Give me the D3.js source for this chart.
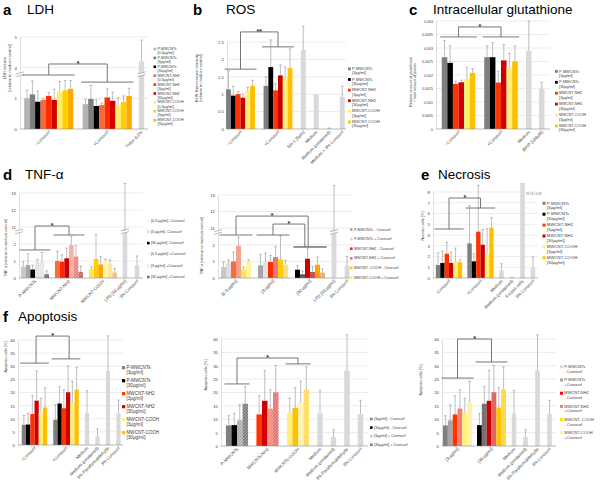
<!DOCTYPE html>
<html><head><meta charset="utf-8">
<script src="https://cdn.jsdelivr.net/npm/d3@7"></script>
<style>body{margin:0;background:#fff}svg{font-family:'Liberation Sans',Arial,sans-serif}</style>
</head><body><svg id="c" width="600" height="487"></svg>
<script>
// ================= DATA =================
const SINGLE = "#d9d9d9";
// a LDH
const ldhGroups = ["-Curosurf", "+Curosurf"];
const ldhSeries = ["P-MWCNTs [0.3µg/ml]","P-MWCNTs [3µg/ml]","P-MWCNTs [30µg/ml]","MWCNT-NH2 [0.3µg/ml]","MWCNT-NH2 [3µg/ml]","MWCNT-NH2 [30µg/ml]","MWCNT-COOH [0.3µg/ml]","MWCNT-COOH [3µg/ml]","MWCNT-COOH [30µg/ml]"];
const ldhColors = ["#b3b3b3","#7f7f7f","#000000","#f26b3a","#ff2a00","#d40000","#ffee66","#ffd000","#ffaa00"];
const ldhValues = [[1.0,1.13,0.89,0.95,1.08,0.95,1.20,1.26,1.31],[0.81,0.98,0.75,0.78,1.03,0.92,0.78,0.88,1.08]];
const ldhErrors = [[0.27,0.44,0.35,0.05,0.11,0.35,0.35,0.32,0.27],[0.16,0.44,0.2,0.06,0.28,0.28,0.24,0.2,0.25]];
const ldhSingles = ["Triton 0.2%"];
const ldhSingleValues = [4.2];
const ldhSingleErrors = [0.7];
const ldhTickLabels = [0,1,4,5];

// shared 6-series (b, c, e, f-left)
const series6 = ["P-MWCNTs [3µg/ml]","P-MWCNTs [30µg/ml]","MWCNT-NH2 [3µg/ml]","MWCNT-NH2 [30µg/ml]","MWCNT-COOH [3µg/ml]","MWCNT-COOH [30µg/ml]"];
const colors6 = ["#7f7f7f","#000000","#ff3300","#cc0000","#ffee77","#ffc000"];

// b ROS
const rosGroups = ["-Curosurf","+Curosurf"];
const rosValues = [[1.14,0.96,1.0,0.9,1.1,1.24],[1.24,1.78,1.11,1.54,1.48,1.75]];
const rosErrors = [[0.53,0.26,0.08,0.1,0.1,0.16],[0.26,0.78,0.19,0.3,0.3,0.55]];
const rosSingles = ["Sin-1 [5µm]","Medium","Medium (unstained)","Medium + 3% Curosurf"];
const rosSingleValues = [2.27,1.0,0.02,0.92];
const rosSingleErrors = [0.68,0,0.01,0.31];
const rosTicks = [0,0.5,1,1.5,2,2.5];

// c glutathione
const gshGroups = ["-Curosurf","+Curosurf"];
const gshValues = [[0.00266,0.00245,0.00167,0.00173,0.00185,0.00208],[0.00266,0.00266,0.00172,0.00254,0.00229,0.0025]];
const gshErrors = [[0.00062,0.00063,0.0001,0.00008,0.00043,0.00016],[0.00042,0.00054,0.00042,0.00058,0.00051,0.00058]];
const gshSingles = ["Medium","tBHP [100µM]"];
const gshSingleValues = [0.0029,0.00148];
const gshSingleErrors = [0.0011,0.00025];
const gshTicks = [0,0.0005,0.001,0.0015,0.002,0.0025,0.003,0.0035,0.004];

// d TNF-alpha  (rows: material; columns: 0.3-, 3-, 30-, 0.3+, 3+, 30+)
const tnfMaterials = ["P-MWCNTs","MWCNT-NH2","MWCNT-COOH"];
const tnfConcs = ["[0.3 µg/ml]","[3 µg/ml]","[30 µg/ml]"];
const tnfValues = [[0.66,0.76,0.5,0.9,0.96,0.22],[1.0,0.96,1.16,1.94,1.26,0.36],[0.52,1.12,0.8,1.02,0.8,0.32]];
const tnfErrors = [[0.3,0.66,0.26,0.2,0.54,0.2],[0.56,0.4,0.6,0.52,0.64,0.34],[0.14,1.44,0.46,0.08,0.26,0.24]];
const tnfColors = [["#c8c8c8","#a6a6a6","#000000","#dedede","#e3e3e3","#595959"],
                   ["#ff6a3d","#ff2a00","#cc0000","#f4a28c","#e87878","#c85050"],
                   ["#ffe84a","#ffcc00","#ffa500","#fff3a0","#ffe080","#f5b070"]];
const tnfSingles = ["LPS [50 µg/ml]","3% Curosurf"];
const tnfSingleValues = [10.9,0.76];
const tnfSingleErrors = [2.66,0.54];
const tnfTickLabels = [0,1,2,11,12,13];
const tnfLegendLeft = ["[0.3 µg/ml] -Curosurf","[3 µg/ml] -Curosurf","[30 µg/ml] -Curosurf","[0.3 µg/ml] +Curosurf","[3 µg/ml] +Curosurf","[30 µg/ml] +Curosurf"];
const tnfLegendMid = ["P-MWCNTs - Curosurf","P-MWCNTs + Curosurf","MWCNT-NH2 - Curosurf","MWCNT-NH2 + Curosurf","MWCNT- COOH - Curosurf","MWCNT-COOH + Curosurf"];

// e Necrosis
const necGroups = ["-Curosurf","+Curosurf"];
const necValues = [[1.21,1.4,2.26,1.4,1.58,1.47],[3.22,1.55,4.31,3.1,2.2,4.68]];
const necErrors = [[1.12,1.11,1.06,1.02,1.21,0.23],[3.51,0.71,4.31,1.4,2.39,0.92]];
const necSingles = ["Medium","Medium (unstained)","Frozen cells","3% Curosurf"];
const necSingleValues = [0.71,0.03,99.53,0.93];
const necSingleErrors = [0.62,0.02,0.38,1.02];
const necTicks = [0,1,2,3,4,5,6,7,8];

// f Apoptosis (rows: material; columns: 3-, 30-, 3+, 30+)
const apoMaterials = ["P-MWCNTs","MWCNTs-NH2","MWCNTs-COOH"];
const apoValues = [[7.7,7.8,9.6,15.8],[11.8,16.9,14.0,20.1],[12.2,14.3,16.2,21.1]];
const apoErrors = [[3.6,4.3,5.8,6.4],[7.0,11.3,7.0,10.0],[5.6,7.5,8.0,8.5]];
const apoColors = [["#7f7f7f","#000000","#a6a6a6","#737373"],["#ff3300","#cc0000","#f08070","#e06666"],["#fff07a","#ffc000","#fff2a8","#ffd84d"]];
const apoSingles = ["Medium","Medium (unstained)","3% Paraformaldehyde","3% Curosurf"];
const apoSingleValues = [12.2,3.3,28.2,11.9];
const apoSingleErrors = [8.5,2.8,13.4,5.2];
const apoTicks = [0,5,10,15,20,25,30,35,40];
const apoConcs = ["[3 µg/ml]","[30 µg/ml]"];
const apoLegendMid = ["[3µg/ml] - Curosurf","[30µg/ml] - Curosurf","[3µg/ml] + Curosurf","[30µg/ml] + Curosurf"];
const apoLegendRight = ["P-MWCNTs|- Curosurf","P-MWCNTs|+Curosurf","MWCNT-NH2|- Curosurf","MWCNT-NH2|+Curosurf","MWCNT- COOH|- Curosurf","MWCNT-COOH|+Curosurf"];

// ================= DRAWING =================
const svg = d3.select("#c");
const defs = svg.append("defs");
let hatchN = 0;
function hatch(color){
  const id = "h"+(hatchN++);
  const p = defs.append("pattern").attr("id",id).attr("patternUnits","userSpaceOnUse")
    .attr("width",2.2).attr("height",2.2).attr("patternTransform","rotate(45)");
  p.append("rect").attr("width",2.2).attr("height",2.2).attr("fill",color);
  p.append("line").attr("x1",0.5).attr("y1",0).attr("x2",0.5).attr("y2",2.2)
    .attr("stroke","#fff").attr("stroke-width",0.7).attr("stroke-opacity",0.55);
  return `url(#${id})`;
}
function buildCats(groups, values, errors, fills, singles, sv, se){
  const cats = groups.map((g,gi)=>({label:g, bars: values[gi].map((v,j)=>({v, e:errors[gi][j], fill: typeof fills==="function"? fills(gi,j) : fills[j]}))}));
  return cats.concat(singles.map((s,i)=>({label:s, single:true, bars:[{v:sv[i], e:se[i], fill:SINGLE}]})));
}
function txt(g,x,y,s,size,opt={}){
  return g.append("text").attr("x",x).attr("y",y).attr("font-size",size)
    .attr("font-weight",opt.bold?"bold":null).attr("fill",opt.fill||"#000")
    .attr("text-anchor",opt.anchor||"start").text(s);
}
function drawPanel(o){
  const g = svg.append("g");
  const ys = d3.scaleLinear().domain(o.yDomain).range(o.yRange);
  const disp = o.disp || (v=>v);
  const Y = v => ys(Math.min(disp(v), o.clip ?? 1e9));
  const tickDisp = o.tickDisp || o.ticks;
  const tickLab = o.tickLabels || o.ticks.map(o.fmt || (d=>d));
  // grid
  g.selectAll(".gr").data(tickDisp.slice(1)).join("line")
    .attr("x1",o.gx0).attr("x2",o.gx1).attr("y1",d=>ys(d)).attr("y2",d=>ys(d))
    .attr("stroke","#d9d9d9").attr("stroke-width",0.5);
  // y axis
  const ax = d3.axisLeft(ys).tickValues(tickDisp).tickFormat((d,i)=>tickLab[i]).tickSize(0).tickSizeOuter(0).tickPadding(3);
  g.append("g").attr("transform",`translate(${o.gx0},0)`).call(ax)
    .call(s=>{s.select(".domain").attr("stroke","#bfbfbf").attr("stroke-width",0.5);
      s.selectAll("text").attr("font-size",o.tickFont||4.3).attr("fill","#404040").attr("font-family","'Liberation Sans',Arial,sans-serif");});
  // categories
  const cum=[0]; o.weights.forEach((w,i)=>cum.push(cum[i]+w));
  const xs = d3.scaleLinear().domain([0,cum[cum.length-1]]).range([o.x0,o.x1]);
  const bands = o.cats.map((c,i)=>{
    const a=xs(cum[i]), b=xs(cum[i+1]), m=(a+b)/2;
    const sc = c.single ? d3.scaleBand().domain([0]).range([m-o.singleW/2,m+o.singleW/2])
                        : d3.scaleBand().domain(d3.range(c.bars.length)).range([a+o.pad,b-o.pad]);
    return {a,b,m,sc};
  });
  const base = ys(0);
  o.cats.forEach((c,i)=>{
    const sc = bands[i].sc;
    c.bars.forEach((d,j)=>{
      const x = sc(j), w = sc.bandwidth(), top = Y(d.v);
      g.append("rect").attr("x",x).attr("y",top).attr("width",w).attr("height",Math.max(0,base-top)).attr("fill",d.fill);
      if(d.e>0 && disp(d.v) < (o.clip ?? 1e9)){
        const et = Y(d.v+d.e), cx = x+w/2, cw = Math.min(w*0.6,2.6);
        g.append("path").attr("d",`M${cx},${top}V${et}M${cx-cw/2},${et}H${cx+cw/2}`)
          .attr("stroke","#7f7f7f").attr("stroke-width",0.5).attr("fill","none");
      }
    });
  });
  // baseline
  g.append("line").attr("x1",o.gx0).attr("x2",o.gx1).attr("y1",base).attr("y2",base).attr("stroke","#8c8c8c").attr("stroke-width",0.6);
  // x labels
  o.cats.forEach((c,i)=>{
    g.append("text").attr("transform",`translate(${bands[i].m+1.5},${base+3.5}) rotate(-45)`)
      .attr("text-anchor","end").attr("font-size",o.xFont||4.4).attr("fill","#404040").text(c.label);
  });
  // axis breaks
  (o.breaks||[]).forEach(br=>{
    const yb = ys(br.at);
    const xsList = [o.gx0].concat((br.cats||[]).map(ci=>bands[ci].m));
    xsList.forEach(x=>{
      const w = 4;
      g.append("path").attr("d",`M${x-w},${yb+1}L${x+w},${yb-1}L${x+w},${yb+1.6}L${x-w},${yb+3.6}Z`).attr("fill","#fff");
      g.append("path").attr("d",`M${x-w},${yb+1}L${x+w},${yb-1}M${x-w},${yb+3.6}L${x+w},${yb+1.6}`)
        .attr("stroke","#8c8c8c").attr("stroke-width",0.6);
    });
  });
  // brackets
  (o.brackets||[]).forEach(br=>{
    const A=bands[br.a], B=bands[br.b];
    const xa = A.a+(A.b-A.a)*(br.fa??0.5), xb = B.a+(B.b-B.a)*(br.fb??0.5);
    const yt=ys(br.top), yla=ys(br.la), ylb=ys(br.lb);
    const st={stroke:"#666",w:0.9};
    g.append("path").attr("d",`M${xa},${yla}V${yt}H${xb}V${ylb}`).attr("fill","none").attr("stroke",st.stroke).attr("stroke-width",st.w);
    [[A,yla],[B,ylb]].forEach(([bd,yy])=>{
      const r=bd.sc.range();
      g.append("line").attr("x1",r[0]-1.5).attr("x2",r[1]+1.5).attr("y1",yy).attr("y2",yy).attr("stroke",st.stroke).attr("stroke-width",st.w);
    });
    txt(g,(xa+xb)/2,yt-2.2,br.star||"*",7,{anchor:"middle",bold:true,fill:"#333"}).attr("dy","0.55em");
  });
  // legend
  if(o.legend){
    const L=o.legend;
    L.items.forEach((it,i)=>{
      const y=L.y+i*L.dy;
      g.append("rect").attr("x",L.x).attr("y",y-L.sw+0.3).attr("width",L.sw).attr("height",L.sw).attr("fill",it.fill);
      it.lines.forEach((ln,k)=>txt(g,L.x+L.sw+1.3,y+k*L.lh,ln,L.font,{fill:"#404040"}));
    });
  }
  // y label
  if(o.ylab){
    const t=g.append("text").attr("transform",`translate(${o.ylab.x},${o.ylab.y}) rotate(-90)`)
      .attr("text-anchor","middle").attr("font-size",o.ylab.font||4.3).attr("fill","#404040");
    o.ylab.lines.forEach((ln,k)=>t.append("tspan").attr("x",0).attr("dy",k?"1.15em":0).text(ln));
  }
  return {g,ys,bands};
}
const splitName = s => { const k=s.indexOf(" ["); return [s.slice(0,k), s.slice(k+1)]; };

// ---- titles ----
const T = svg.append("g");
[["a",3,15],["b",193,15],["c",409,15],["d",3,180],["e",421,180],["f",3,322]].forEach(d=>txt(T,d[1],d[2],d[0],15,{bold:true}));
[["LDH",27,14],["ROS",226,14],["Intracellular glutathione",433,14],["TNF-α",25,179],["Necrosis",438,179],["Apoptosis",18,321]].forEach(d=>txt(T,d[1],d[2],d[0],13.5));

// ---- a ----
drawPanel({
  cats: buildCats(ldhGroups, ldhValues, ldhErrors, ldhColors, ldhSingles, ldhSingleValues, ldhSingleErrors),
  x0:19.5, x1:146.5, weights:[58.5,58.5,10], pad:4.7, singleW:5.4,
  gx0:20, gx1:148, yDomain:[0,3], yRange:[129,37], disp:v=>v<=3?v:v-2,
  tickDisp:[0,1,2,3], tickLabels:ldhTickLabels,
  breaks:[{at:1.83, cats:[2]}],
  brackets:[{a:0,b:1,top:2.12,la:1.76,lb:1.53}],
  legend:{x:153.5,y:50,dy:8.9,lh:4.1,font:3.7,sw:2.6,items:ldhSeries.map((s,i)=>({lines:splitName(s),fill:ldhColors[i]}))},
  ylab:{x:6,y:68,lines:["LDH release","[relative to medium control]"],font:4}
});
// ---- b ----
drawPanel({
  cats: buildCats(rosGroups, rosValues, rosErrors, colors6, rosSingles, rosSingleValues, rosSingleErrors),
  x0:221.75, x1:348.75, weights:[37.5,37.5,13,13,13,13], pad:4.3, singleW:5,
  gx0:227, gx1:346, yDomain:[0,2.5], yRange:[129,42], ticks:rosTicks,
  brackets:[{a:0,b:1,top:2.79,la:1.72,lb:2.36,star:"**"}],
  legend:{x:348,y:70,dy:10.6,lh:4.4,font:3.9,sw:2.8,items:series6.map((s,i)=>({lines:splitName(s),fill:colors6[i]}))},
  ylab:{x:197.5,y:78,lines:["ROS fluorescence intensity","[relative to medium control]"],font:4}
});
// ---- c ----
drawPanel({
  cats: buildCats(gshGroups, gshValues, gshErrors, colors6, gshSingles, gshSingleValues, gshSingleErrors),
  x0:437.25, x1:548.25, weights:[42.5,42.5,13,13], pad:4.5, singleW:5.5,
  gx0:436, gx1:550, yDomain:[0,0.004], yRange:[129,21], ticks:gshTicks, fmt:d=>String(d), tickFont:3.6,
  brackets:[{a:0,b:1,top:0.00378,la:0.00341,lb:0.00341}],
  legend:{x:555,y:72.5,dy:10.9,lh:4.4,font:3.8,sw:2.8,items:series6.map((s,i)=>({lines:splitName(s),fill:colors6[i]}))},
  ylab:{x:412,y:82,lines:["Relative amount of glutathione","/ total amount of protein"],font:3.7}
});
// ---- d left ----
const tnfLeftCats = buildCats(tnfMaterials, tnfValues, tnfErrors, (gi,j)=> j>=3 ? hatch(tnfColors[gi][j]) : tnfColors[gi][j], tnfSingles, tnfSingleValues, tnfSingleErrors);
drawPanel({
  cats: tnfLeftCats,
  x0:18, x1:144, weights:[34,34,34,10,14], pad:3, singleW:4.6,
  gx0:19, gx1:143, yDomain:[0,5], yRange:[278,193], disp:v=>v<=5?v:v-8,
  tickDisp:[0,1,2,3,4,5], tickLabels:tnfTickLabels,
  breaks:[{at:2.82, cats:[3]}],
  brackets:[{a:0,b:1,top:3.06,la:1.65,lb:2.53}],
  legend:{x:147,y:221.5,dy:11.3,lh:4,font:3.7,sw:2.6,items:tnfLegendLeft.map((s,i)=>({lines:[s],fill:[ "#f2f2f2","#d9d9d9","#000000","#f2f2f2","#e6e6e6",hatch("#595959")][i]}))},
  ylab:{x:7,y:248,lines:["TNF-α [relative to medium control]"],font:3.8}
});
// ---- d middle ----
const tnfMidOrder = [[0,0],[0,3],[1,0],[1,3],[2,0],[2,3]]; // [material, column offset]
const tnfMidCats = tnfConcs.map((c,ci)=>({label:c, bars: tnfMidOrder.map(([m,off])=>({v:tnfValues[m][off+ci], e:tnfErrors[m][off+ci], fill:tnfColors[m][off+ci]}))}))
  .concat(tnfSingles.map((s,i)=>({label:s,single:true,bars:[{v:tnfSingleValues[i],e:tnfSingleErrors[i],fill:SINGLE}]})));
drawPanel({
  cats: tnfMidCats,
  x0:217.5, x1:354.5, weights:[37,37,37,11,15], pad:3.5, singleW:4.8,
  gx0:218, gx1:352, yDomain:[0,5], yRange:[278,195], disp:v=>v<=5?v:v-8,
  tickDisp:[0,1,2,3,4,5], tickLabels:tnfTickLabels,
  breaks:[{at:2.85, cats:[3]}],
  brackets:[{a:0,b:2,top:3.73,la:2.59,lb:1.87,fb:0.45},{a:1,b:2,top:3.25,la:2.59,lb:1.87,fb:0.36}],
  legend:{x:350,y:230.5,dy:9.6,lh:4,font:3.7,sw:2.6,items:tnfLegendMid.map((s,i)=>({lines:[s],fill:["#a6a6a6","#d9d9d9","#ff2200","#e87878","#ffcc00","#fff080"][i]}))},
  ylab:{x:203,y:246,lines:["TNF-α [relative to medium control]"],font:3.8}
});
// ---- e ----
const eP = drawPanel({
  cats: buildCats(necGroups, necValues, necErrors, colors6, necSingles, necSingleValues, necSingleErrors),
  x0:433.25, x1:538.25, weights:[31.5,31.5,10.5,10.5,10.5,10.5], pad:2.6, singleW:4.5,
  gx0:433, gx1:538, yDomain:[0,8], yRange:[278,192], ticks:necTicks, clip:8.85,
  brackets:[{a:0,b:1,top:7.44,la:4.56,lb:6.51}],
  legend:{x:542.5,y:204.5,dy:10.9,lh:4.8,font:4.3,sw:3,items:series6.map((s,i)=>({lines:splitName(s),fill:colors6[i]}))},
  ylab:{x:424,y:226,lines:["Necrotic cells [%]"],font:3.8}
});
txt(eP.g, eP.bands[4].m+3.5, eP.ys(7.7), necSingleValues[2]+" ± "+necSingleErrors[2], 2.8, {fill:"#777"});
// ---- f left ----
const apoLeftCats = [0,1].map(cur=>({label: cur? "+Curosurf":"-Curosurf", bars: [0,1,2].flatMap(m=>[0,1].map(c=>({v:apoValues[m][cur*2+c], e:apoErrors[m][cur*2+c], fill:colors6[m*2+c]})))}))
  .concat(apoSingles.map((s,i)=>({label:s,single:true,bars:[{v:apoSingleValues[i],e:apoSingleErrors[i],fill:SINGLE}]})));
drawPanel({
  cats: apoLeftCats,
  x0:18.75, x1:123.75, weights:[31.5,31.5,10.5,10.5,10.5,10.5], pad:3, singleW:4.3,
  gx0:18, gx1:123, yDomain:[0,40], yRange:[445,340], ticks:apoTicks,
  brackets:[{a:0,b:1,top:41.5,la:31.2,lb:32.8,fa:0.55,fb:0.6}],
  legend:{x:122,y:369,dy:13,lh:5.4,font:4.6,sw:3.2,items:series6.map((s,i)=>({lines:splitName(s),fill:colors6[i]}))},
  ylab:{x:7,y:357,lines:["Apoptotic cells [%]"],font:3.8}
});
// ---- f middle ----
drawPanel({
  cats: buildCats(apoMaterials, apoValues, apoErrors, (gi,j)=> j>=2 ? hatch(apoColors[gi][j]) : apoColors[gi][j], apoSingles, apoSingleValues, apoSingleErrors),
  x0:221.75, x1:367.25, weights:[30.5,30.5,30.5,13.5,13.5,13.5,13.5], pad:4.2, singleW:5.5,
  gx0:221, gx1:368, yDomain:[0,40], yRange:[446,339], ticks:apoTicks,
  brackets:[{a:0,b:2,top:32.9,la:23.2,lb:30.7}],
  legend:{x:370,y:420,dy:8.6,lh:4,font:3.7,sw:2.6,items:apoLegendMid.map((s,i)=>({lines:[s],fill:["#7f7f7f","#000000",hatch("#bfbfbf"),hatch("#595959")][i]}))},
  ylab:{x:207,y:375,lines:["Apoptotic cells [%]"],font:3.8}
});
// ---- f right ----
const apoRightOrder = [[0,0],[0,2],[1,0],[1,2],[2,0],[2,2]];
const apoRightCats = apoConcs.map((c,ci)=>({label:c, bars: apoRightOrder.map(([m,off])=>({v:apoValues[m][off+ci], e:apoErrors[m][off+ci], fill:apoColors[m][off+ci]}))}))
  .concat(apoSingles.map((s,i)=>({label:s,single:true,bars:[{v:apoSingleValues[i],e:apoSingleErrors[i],fill:SINGLE}]})));
drawPanel({
  cats: apoRightCats,
  x0:440.5, x1:555.5, weights:[34,34,11,12,12,12], pad:2.5, singleW:4.6,
  gx0:442, gx1:556, yDomain:[0,40], yRange:[446,339], ticks:apoTicks,
  brackets:[{a:0,b:1,top:40,la:25.4,lb:31.4}],
  legend:{x:560,y:368,dy:13.2,lh:4.8,font:4,sw:3,items:apoLegendRight.map((s,i)=>({lines:s.split("|"),fill:["#d9d9d9","#a6a6a6","#ff0000","#e88080","#ffdd00","#fff0a0"][i]}))},
  ylab:{x:422,y:380,lines:["Apoptotic cells [%]"],font:3.8}
});
</script></body></html>
